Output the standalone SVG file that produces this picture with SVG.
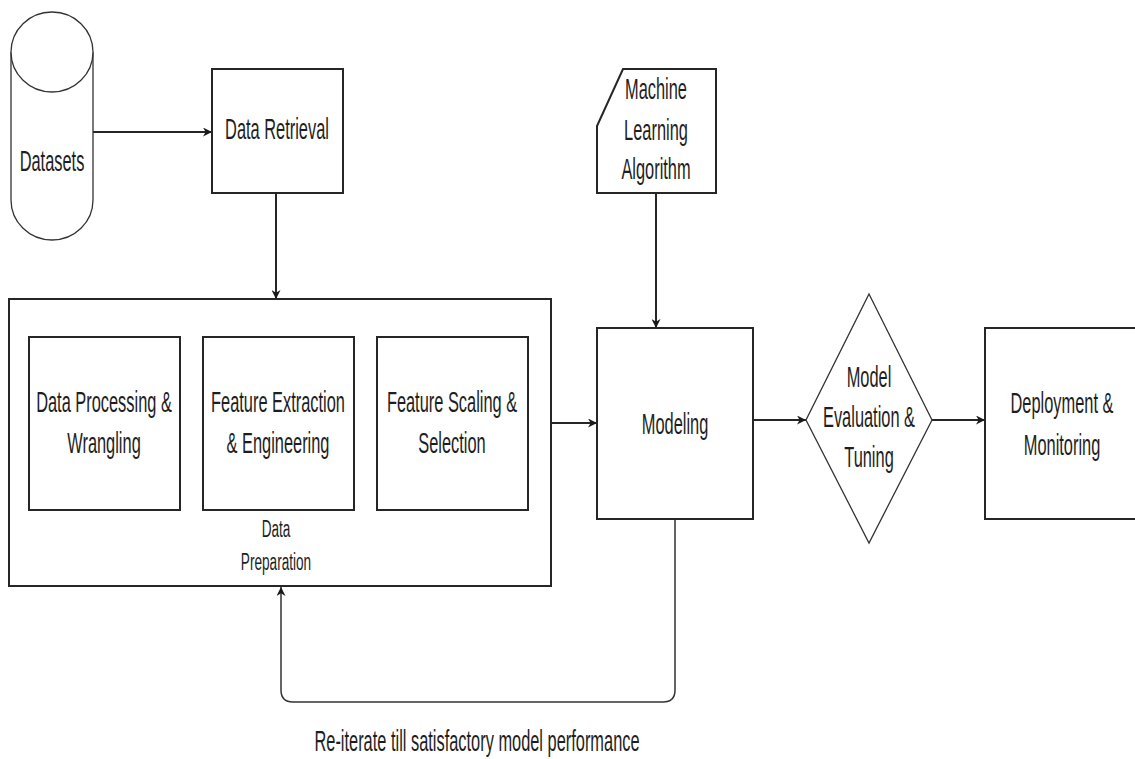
<svg xmlns="http://www.w3.org/2000/svg" width="1135" height="759" viewBox="0 0 1135 759">
  <style>
    .box { fill: #ffffff; stroke: #262626; stroke-width: 2; }
    .thin { fill: #ffffff; stroke: #333333; stroke-width: 1.3; }
    .edge { fill: none; stroke: #262626; stroke-width: 2; }
    .loop { fill: none; stroke: #333333; stroke-width: 1.5; }
    .lbl { font-family: "Liberation Sans", Arial, sans-serif; font-size: 16.4px; fill: #1e1e1e; text-anchor: middle; }
    .small { font-size: 13.6px; }
  </style>
  <defs>
    <marker id="arrow" viewBox="0 0 10 10" refX="10" refY="5" markerWidth="10" markerHeight="9" markerUnits="userSpaceOnUse" orient="auto">
      <path d="M0,0 L10,5 L0,10 L3,5 Z" fill="#1a1a1a"/>
    </marker>
  </defs>
  <rect width="1135" height="759" fill="#ffffff"/>

  <!-- connectors -->
  <g id="connectors">
    <path class="edge" d="M93,132 H212" marker-end="url(#arrow)"/>
    <path class="edge" d="M276,193 V299" marker-end="url(#arrow)"/>
    <path class="edge" d="M656,193 V328" marker-end="url(#arrow)"/>
    <path class="edge" d="M551,423 H597" marker-end="url(#arrow)"/>
    <path class="edge" d="M753,420 H806" marker-end="url(#arrow)"/>
    <path class="edge" d="M932,420 H985" marker-end="url(#arrow)"/>
    <path class="loop" d="M675,519 V690 Q675,702 663,702 H293 Q281,702 281,690 V587" marker-end="url(#arrow)"/>
  </g>

  <!-- datasets store -->
  <g id="datasets">
    <path class="thin" d="M11,52 A41,40 0 0 1 93,52 L93,200 A41,40 0 0 1 11,200 Z"/>
    <path class="thin" fill="none" d="M11,52 A41,40 0 0 0 93,52"/>
    <text class="lbl" transform="translate(52,171) scale(1,1.78)">Datasets</text>
  </g>

  <g id="data-retrieval">
    <rect class="box" x="212" y="69" width="131" height="124"/>
    <text class="lbl" transform="translate(277,139) scale(1,1.78)">Data Retrieval</text>
  </g>

  <g id="ml-algorithm">
    <path class="box" d="M623,69 H716 V193 H597 V126 Z"/>
    <text class="lbl" transform="translate(656,99) scale(1,1.78)">Machine</text>
    <text class="lbl" transform="translate(656,140) scale(1,1.78)">Learning</text>
    <text class="lbl" transform="translate(656,179) scale(1,1.78)">Algorithm</text>
  </g>

  <!-- data preparation container -->
  <g id="data-preparation">
    <rect class="box" x="9" y="299" width="542" height="287"/>
    <text class="lbl small" transform="translate(276,537) scale(1,1.72)">Data</text>
    <text class="lbl small" transform="translate(276,570) scale(1,1.72)">Preparation</text>
  </g>

  <g id="data-processing">
    <rect class="box" x="29" y="337" width="151" height="173"/>
    <text class="lbl" transform="translate(104,412) scale(1,1.78)">Data Processing &amp;</text>
    <text class="lbl" transform="translate(104,453) scale(1,1.78)">Wrangling</text>
  </g>

  <g id="feature-extraction">
    <rect class="box" x="203" y="337" width="151" height="173"/>
    <text class="lbl" transform="translate(278,412) scale(1,1.78)">Feature Extraction</text>
    <text class="lbl" transform="translate(278,453) scale(1,1.78)">&amp; Engineering</text>
  </g>

  <g id="feature-scaling">
    <rect class="box" x="377" y="337" width="151" height="173"/>
    <text class="lbl" transform="translate(452,412) scale(1,1.78)">Feature Scaling &amp;</text>
    <text class="lbl" transform="translate(452,453) scale(1,1.78)">Selection</text>
  </g>

  <g id="modeling">
    <rect class="box" x="597" y="328" width="156" height="191"/>
    <text class="lbl" transform="translate(675,434) scale(1,1.78)">Modeling</text>
  </g>

  <g id="evaluation">
    <path class="thin" d="M869,294 L932,420 L869,543 L806,420 Z"/>
    <text class="lbl" transform="translate(869,387) scale(1,1.78)">Model</text>
    <text class="lbl" transform="translate(869,427) scale(1,1.78)">Evaluation &amp;</text>
    <text class="lbl" transform="translate(869,467) scale(1,1.78)">Tuning</text>
  </g>

  <g id="deployment">
    <rect class="box" x="985" y="328" width="160" height="191"/>
    <text class="lbl" transform="translate(1062,413) scale(1,1.78)">Deployment &amp;</text>
    <text class="lbl" transform="translate(1062,455) scale(1,1.78)">Monitoring</text>
  </g>

  <g id="loop-label">
    <text class="lbl" transform="translate(477,751) scale(1,1.78)">Re-iterate till satisfactory model performance</text>
  </g>
</svg>
